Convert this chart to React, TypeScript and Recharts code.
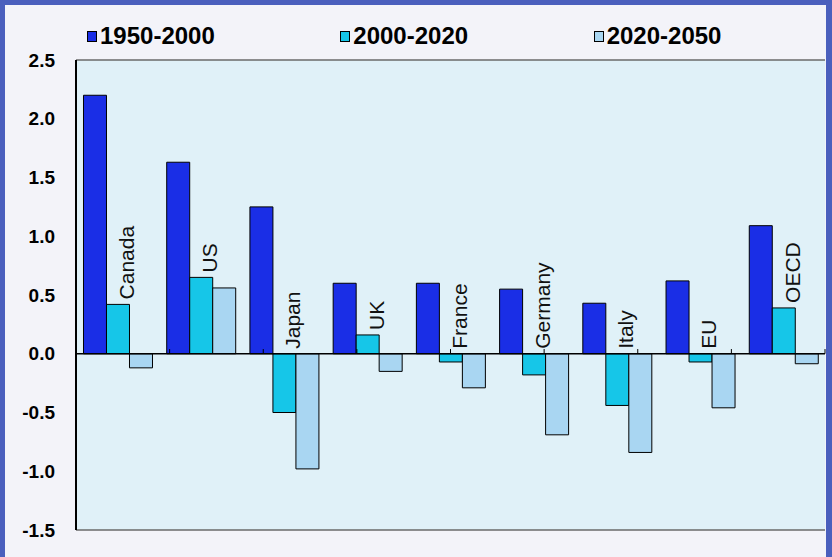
import React from "react";
import {
  Bar,
  BarChart,
  CartesianGrid,
  Legend,
  LabelList,
  ReferenceLine,
  XAxis,
  YAxis,
} from "recharts";

const countries = ["Canada", "US", "Japan", "UK", "France", "Germany", "Italy", "EU", "OECD"];
const p1950_2000 = [2.2, 1.63, 1.25, 0.6, 0.6, 0.55, 0.43, 0.62, 1.09];
const p2000_2020 = [0.42, 0.65, -0.5, 0.16, -0.07, -0.18, -0.44, -0.07, 0.39];
const p2020_2050 = [-0.12, 0.56, -0.98, -0.15, -0.29, -0.69, -0.84, -0.46, -0.085];
const yTicks = [-1.5, -1.0, -0.5, 0.0, 0.5, 1.0, 1.5, 2.0, 2.5];
const boundaries = [1, 2, 3, 4, 5, 6, 7, 8, 9];

const data = countries.map((country, i) => ({
  country,
  a: p1950_2000[i],
  b: p2000_2020[i],
  c: p2020_2050[i],
}));

const FONT = "'Liberation Sans', Arial, sans-serif";

function CountryLabel(props: any) {
  const x = Number(props.x);
  const y = Number(props.y);
  const w = Number(props.width);
  const h = Number(props.height);
  const top = Math.min(y, y + h);
  const cx = x + w - 3;
  const by = top - 5;
  return (
    <text
      transform={`translate(${cx},${by}) rotate(-90)`}
      dy="0.35em"
      textAnchor="start"
      fontFamily={FONT}
      fontSize={21}
      fill="#111"
    >
      {props.value}
    </text>
  );
}

function LegendContent(props: any) {
  const items = props.payload || [];
  return (
    <div style={{ display: "flex", fontFamily: FONT }}>
      {items.map((it: any) => (
        <div key={it.value} style={{ width: 268, display: "flex", alignItems: "center" }}>
          <span
            style={{
              display: "inline-block",
              width: 8,
              height: 9,
              background: it.color,
              border: "1px solid #000",
              marginRight: 3,
            }}
          />
          <span style={{ fontSize: 24, fontWeight: 700, color: "#000", lineHeight: "24px" }}>
            {it.value}
          </span>
        </div>
      ))}
    </div>
  );
}

export default function App() {
  return (
    <div
      style={{
        position: "fixed",
        left: 0,
        top: 0,
        width: 832,
        height: 557,
        background: "#4a5fbd",
        overflow: "hidden",
      }}
    >
      <div
        style={{
          position: "absolute",
          left: 5,
          top: 5,
          width: 821,
          height: 552,
          background: "#f3f3f9",
        }}
      />
      <div style={{ position: "absolute", left: 0, top: 0 }}>
        <BarChart
          width={832}
          height={557}
          data={data}
          margin={{ top: 60, right: 7, bottom: 27, left: 16 }}
          barCategoryGap="9%"
          barGap={0}
        >
          <CartesianGrid
            xAxisId="num"
            fill="#e0f1f8"
            fillOpacity={1}
            stroke="#6a6a6a"
            strokeWidth={1.5}
            horizontalValues={[-1.5, 2.5]}
            verticalValues={[0, 9]}
          />
          <XAxis dataKey="country" hide />
          <XAxis xAxisId="num" type="number" domain={[0, 9]} hide />
          <YAxis
            width={60}
            domain={[-1.5, 2.5]}
            ticks={yTicks}
            interval={0}
            tickFormatter={(v) => Number(v).toFixed(1)}
            tickLine={false}
            tickSize={0}
            tickMargin={21}
            axisLine={{ stroke: "#000", strokeWidth: 2 }}
            tick={{ fill: "#000", fontSize: 19, fontWeight: 700, fontFamily: FONT }}
          />
          <Bar dataKey="a" name="1950-2000" fill="#1a2ee6" stroke="#000" strokeWidth={1} isAnimationActive={false} />
          <Bar dataKey="b" name="2000-2020" fill="#16c6e8" stroke="#000" strokeWidth={1} isAnimationActive={false}>
            <LabelList dataKey="country" content={CountryLabel} />
          </Bar>
          <Bar dataKey="c" name="2020-2050" fill="#a9d6f2" stroke="#000" strokeWidth={1} isAnimationActive={false} />
          <ReferenceLine y={0} stroke="#000" strokeWidth={1.5} />
          {boundaries.map((b) => (
            <ReferenceLine
              key={b}
              xAxisId="num"
              segment={[
                { x: b, y: 0 },
                { x: b, y: 0.04 },
              ]}
              stroke="#000"
              strokeWidth={1}
            />
          ))}
          <Legend
            verticalAlign="middle"
            align="center"
            layout="horizontal"
            content={LegendContent}
            wrapperStyle={{ top: 24, left: 87, width: 760 }}
          />
        </BarChart>
      </div>
    </div>
  );
}
